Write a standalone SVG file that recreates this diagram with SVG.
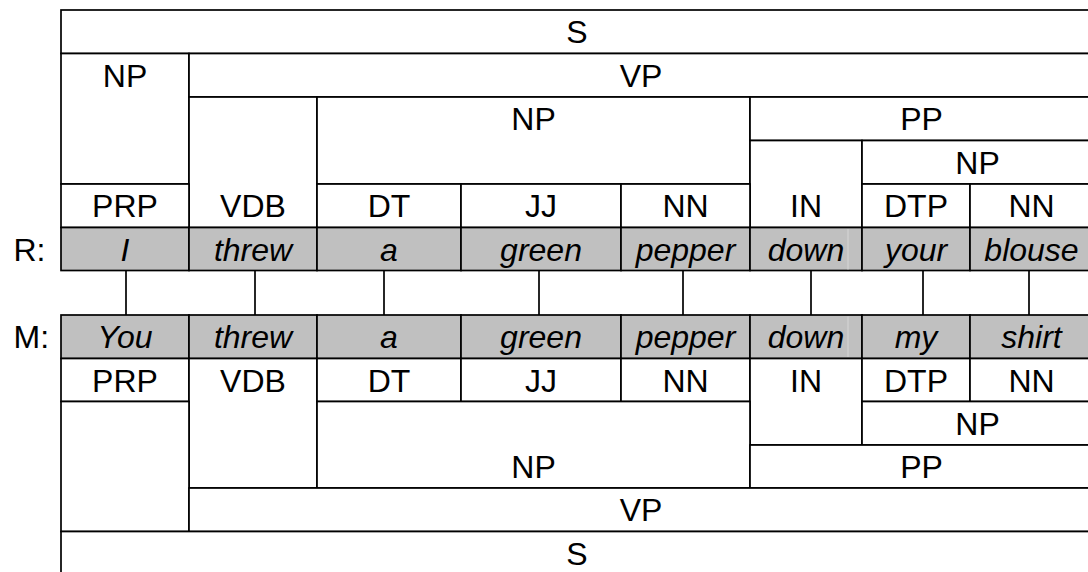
<svg xmlns="http://www.w3.org/2000/svg" width="1088" height="572" viewBox="0 0 1088 572">
  <style>
    .box { fill: #ffffff; stroke: #000000; stroke-width: 1.7; }
    .word { fill: #c0c0c0; stroke: #000000; stroke-width: 1.7; }
    .lbl { font-family: "Liberation Sans", Arial, sans-serif; font-size: 32px; fill: #000000; text-anchor: middle; }
    .w { font-family: "Liberation Sans", Arial, sans-serif; font-size: 32px; font-style: italic; fill: #000000; text-anchor: middle; }
    .side { font-family: "Liberation Sans", Arial, sans-serif; font-size: 32px; fill: #000000; }
    .link { stroke: #000000; stroke-width: 1.7; fill: none; }
    .seam { stroke: #d6d6d6; stroke-width: 1; }
  </style>

  <rect x="0" y="0" width="1088" height="572" fill="#ffffff"/>

  <!-- Upper parse tree (R) -->
  <g id="r-S"><rect class="box" x="61" y="10" width="1032" height="43.5"/><text class="lbl" x="577" y="43.2">S</text></g>
  <g id="r-NP-subj"><rect class="box" x="61" y="53.5" width="128" height="130.5"/><text class="lbl" x="125" y="87">NP</text></g>
  <g id="r-VP"><rect class="box" x="189" y="53.5" width="904" height="43.5"/><text class="lbl" x="641" y="87">VP</text></g>
  <g id="r-VDB"><rect class="box" x="189" y="97" width="128" height="130.5"/><text class="lbl" x="253" y="217.2">VDB</text></g>
  <g id="r-NP-obj"><rect class="box" x="317" y="97" width="433" height="87"/><text class="lbl" x="533.5" y="130.2">NP</text></g>
  <g id="r-PP"><rect class="box" x="750" y="97" width="343" height="43.5"/><text class="lbl" x="921.5" y="130.2">PP</text></g>
  <g id="r-IN"><rect class="box" x="750" y="140.5" width="112" height="87"/><text class="lbl" x="806" y="217.2">IN</text></g>
  <g id="r-NP-pp"><rect class="box" x="862" y="140.5" width="231" height="43.5"/><text class="lbl" x="977.5" y="173.7">NP</text></g>
  <g id="r-PRP"><rect class="box" x="61" y="184" width="128" height="43.5"/><text class="lbl" x="125" y="217.2">PRP</text></g>
  <g id="r-DT"><rect class="box" x="317" y="184" width="144" height="43.5"/><text class="lbl" x="389" y="217.2">DT</text></g>
  <g id="r-JJ"><rect class="box" x="461" y="184" width="160" height="43.5"/><text class="lbl" x="541" y="217.2">JJ</text></g>
  <g id="r-NN1"><rect class="box" x="621" y="184" width="129" height="43.5"/><text class="lbl" x="685.5" y="217.2">NN</text></g>
  <g id="r-DTP"><rect class="box" x="862" y="184" width="108" height="43.5"/><text class="lbl" x="916" y="217.2">DTP</text></g>
  <g id="r-NN2"><rect class="box" x="970" y="184" width="123" height="43.5"/><text class="lbl" x="1031.5" y="217.2">NN</text></g>

  <!-- Upper sentence words -->
  <text class="side" x="13.5" y="260.5">R:</text>
  <g id="r-w1"><rect class="word" x="61" y="227.5" width="128" height="43"/><text class="w" x="125" y="260.5">I</text></g>
  <g id="r-w2"><rect class="word" x="189" y="227.5" width="128" height="43"/><text class="w" x="253" y="260.5">threw</text></g>
  <g id="r-w3"><rect class="word" x="317" y="227.5" width="144" height="43"/><text class="w" x="389" y="260.5">a</text></g>
  <g id="r-w4"><rect class="word" x="461" y="227.5" width="160" height="43"/><text class="w" x="541" y="260.5">green</text></g>
  <g id="r-w5"><rect class="word" x="621" y="227.5" width="129" height="43"/><text class="w" x="685.5" y="260.5">pepper</text></g>
  <g id="r-w6"><rect class="word" x="750" y="227.5" width="112" height="43"/><line class="seam" x1="848" y1="229" x2="848" y2="269.5"/><text class="w" x="806" y="260.5">down</text></g>
  <g id="r-w7"><rect class="word" x="862" y="227.5" width="108" height="43"/><text class="w" x="916" y="260.5">your</text></g>
  <g id="r-w8"><rect class="word" x="970" y="227.5" width="123" height="43"/><text class="w" x="1031.5" y="260.5">blouse</text></g>

  <!-- Word alignment links -->
  <g id="alignment">
    <line class="link" x1="126" y1="270.5" x2="126" y2="315"/>
    <line class="link" x1="255" y1="270.5" x2="255" y2="315"/>
    <line class="link" x1="384" y1="270.5" x2="384" y2="315"/>
    <line class="link" x1="539" y1="270.5" x2="539" y2="315"/>
    <line class="link" x1="683" y1="270.5" x2="683" y2="315"/>
    <line class="link" x1="811" y1="270.5" x2="811" y2="315"/>
    <line class="link" x1="923" y1="270.5" x2="923" y2="315"/>
    <line class="link" x1="1029" y1="270.5" x2="1029" y2="315"/>
  </g>

  <!-- Lower sentence words -->
  <text class="side" x="13.5" y="348.2">M:</text>
  <g id="m-w1"><rect class="word" x="61" y="315" width="128" height="43.5"/><text class="w" x="125" y="348.2">You</text></g>
  <g id="m-w2"><rect class="word" x="189" y="315" width="128" height="43.5"/><text class="w" x="253" y="348.2">threw</text></g>
  <g id="m-w3"><rect class="word" x="317" y="315" width="144" height="43.5"/><text class="w" x="389" y="348.2">a</text></g>
  <g id="m-w4"><rect class="word" x="461" y="315" width="160" height="43.5"/><text class="w" x="541" y="348.2">green</text></g>
  <g id="m-w5"><rect class="word" x="621" y="315" width="129" height="43.5"/><text class="w" x="685.5" y="348.2">pepper</text></g>
  <g id="m-w6"><rect class="word" x="750" y="315" width="112" height="43.5"/><line class="seam" x1="848" y1="316.5" x2="848" y2="357"/><text class="w" x="806" y="348.2">down</text></g>
  <g id="m-w7"><rect class="word" x="862" y="315" width="108" height="43.5"/><text class="w" x="916" y="348.2">my</text></g>
  <g id="m-w8"><rect class="word" x="970" y="315" width="123" height="43.5"/><text class="w" x="1031.5" y="348.2">shirt</text></g>

  <!-- Lower parse tree (M) -->
  <g id="m-PRP"><rect class="box" x="61" y="358.5" width="128" height="43"/><text class="lbl" x="125" y="391.5">PRP</text></g>
  <g id="m-VDB"><rect class="box" x="189" y="358.5" width="128" height="129.5"/><text class="lbl" x="253" y="391.5">VDB</text></g>
  <g id="m-DT"><rect class="box" x="317" y="358.5" width="144" height="43"/><text class="lbl" x="389" y="391.5">DT</text></g>
  <g id="m-JJ"><rect class="box" x="461" y="358.5" width="160" height="43"/><text class="lbl" x="541" y="391.5">JJ</text></g>
  <g id="m-NN1"><rect class="box" x="621" y="358.5" width="129" height="43"/><text class="lbl" x="685.5" y="391.5">NN</text></g>
  <g id="m-IN"><rect class="box" x="750" y="358.5" width="112" height="86.5"/><text class="lbl" x="806" y="391.5">IN</text></g>
  <g id="m-DTP"><rect class="box" x="862" y="358.5" width="108" height="43"/><text class="lbl" x="916" y="391.5">DTP</text></g>
  <g id="m-NN2"><rect class="box" x="970" y="358.5" width="123" height="43"/><text class="lbl" x="1031.5" y="391.5">NN</text></g>
  <g id="m-NP-subj"><rect class="box" x="61" y="401.5" width="128" height="130"/></g>
  <g id="m-NP-obj"><rect class="box" x="317" y="401.5" width="433" height="86.5"/><text class="lbl" x="533.5" y="478">NP</text></g>
  <g id="m-NP-pp"><rect class="box" x="862" y="401.5" width="231" height="43.5"/><text class="lbl" x="977.5" y="434.7">NP</text></g>
  <g id="m-PP"><rect class="box" x="750" y="445" width="343" height="43"/><text class="lbl" x="921.5" y="478">PP</text></g>
  <g id="m-VP"><rect class="box" x="189" y="488" width="904" height="43.5"/><text class="lbl" x="641" y="521.2">VP</text></g>
  <g id="m-S"><rect class="box" x="61" y="531.5" width="1032" height="45"/><text class="lbl" x="577" y="564.7">S</text></g>
</svg>
